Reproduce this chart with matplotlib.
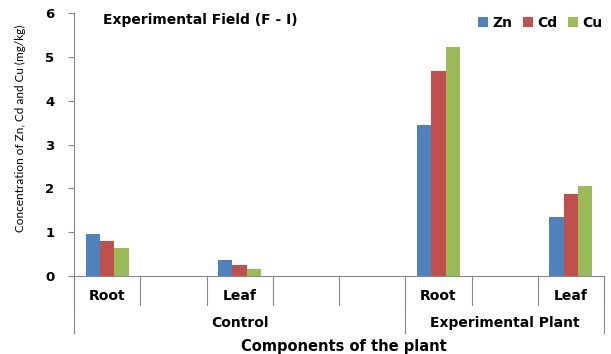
import matplotlib.pyplot as plt
import numpy as np

plt.rcParams["font.family"] = ["DejaVu Sans"]

# slots on the category axis (blank slots are empty in the original chart)
parts = ["Root", "", "Leaf", "", "", "Root", "", "Leaf"]
groups = ["Control", "Experimental Plant"]
group_slots = [5, 3]
nan = float("nan")
zn = [0.95, nan, 0.36, nan, nan, 3.45, nan, 1.35]
cd = [0.80, nan, 0.24, nan, nan, 4.68, nan, 1.86]
cu = [0.64, nan, 0.16, nan, nan, 5.23, nan, 2.05]
series = {"Zn": zn, "Cd": cd, "Cu": cu}
COLORS = {"Zn": "#4F81BD", "Cd": "#C0504D", "Cu": "#9BBB59"}
AXC = "#888888"

fig = plt.figure(figsize=(6.11, 3.54), dpi=100)
ax = fig.add_axes([74 / 611, 1 - 276 / 354, 530 / 611, 263 / 354])

x = np.arange(len(parts))
width = 0.217
for i, (name, vals) in enumerate(series.items()):
    ax.bar(x + (i - 1) * width, vals, width, color=COLORS[name], label=name)

ax.set_xlim(-0.5, len(parts) - 0.5)
ax.set_ylim(0, 6)
ax.set_yticks(range(0, 7))
ax.tick_params(axis="y", direction="out", length=4, color=AXC, pad=10,
               labelsize=9.5)
for t in ax.get_yticklabels():
    t.set_fontweight("bold")
ax.set_xticks([])
for s in ("top", "right"):
    ax.spines[s].set_visible(False)
for s in ("left", "bottom"):
    ax.spines[s].set_color(AXC)
    ax.spines[s].set_linewidth(0.8)

# multi-level category axis
trans = ax.get_xaxis_transform()
ax_h = 263.0
inner = -(305 - 276) / ax_h
outer = -(333 - 276) / ax_h
for b in np.arange(len(parts) + 1) - 0.5:
    ax.plot([b, b], [0, inner], transform=trans, color=AXC, lw=0.8,
            clip_on=False)
edges = np.concatenate([[0], np.cumsum(group_slots)]) - 0.5
for b in edges:
    ax.plot([b, b], [0, outer], transform=trans, color=AXC, lw=0.8,
            clip_on=False)
for xi, lab in zip(x, parts):
    if lab:
        ax.text(xi, -(296 - 276) / ax_h, lab, transform=trans, ha="center",
                va="center", fontsize=10, fontweight="bold")
for g, lo, hi in zip(groups, edges[:-1], edges[1:]):
    ax.text((lo + hi) / 2, -(323 - 276) / ax_h, g, transform=trans,
            ha="center", va="center", fontsize=10, fontweight="bold")

fig.text(344 / 611, 1 - 346 / 354, "Components of the plant", ha="center",
         va="center", fontsize=10.5, fontweight="bold")
fig.text(20 / 611, 1 - 128 / 354, "Concentration of Zn, Cd and Cu (mg/kg)",
         rotation=90, ha="center", va="center", fontsize=8.5, family="Lato")
fig.text(103 / 611, 1 - 20 / 354, "Experimental Field (F - I)", ha="left",
         va="center", fontsize=10, fontweight="bold")

leg = ax.legend(loc="upper right", bbox_to_anchor=(612 / 611, 1 - 6 / 354),
                bbox_transform=fig.transFigure, ncol=3, frameon=False,
                handlelength=0.7, handleheight=0.7, handletextpad=0.3,
                columnspacing=0.8, borderpad=0.2,
                prop={"weight": "bold", "size": 10})

fig.savefig("out.png", dpi=100)
